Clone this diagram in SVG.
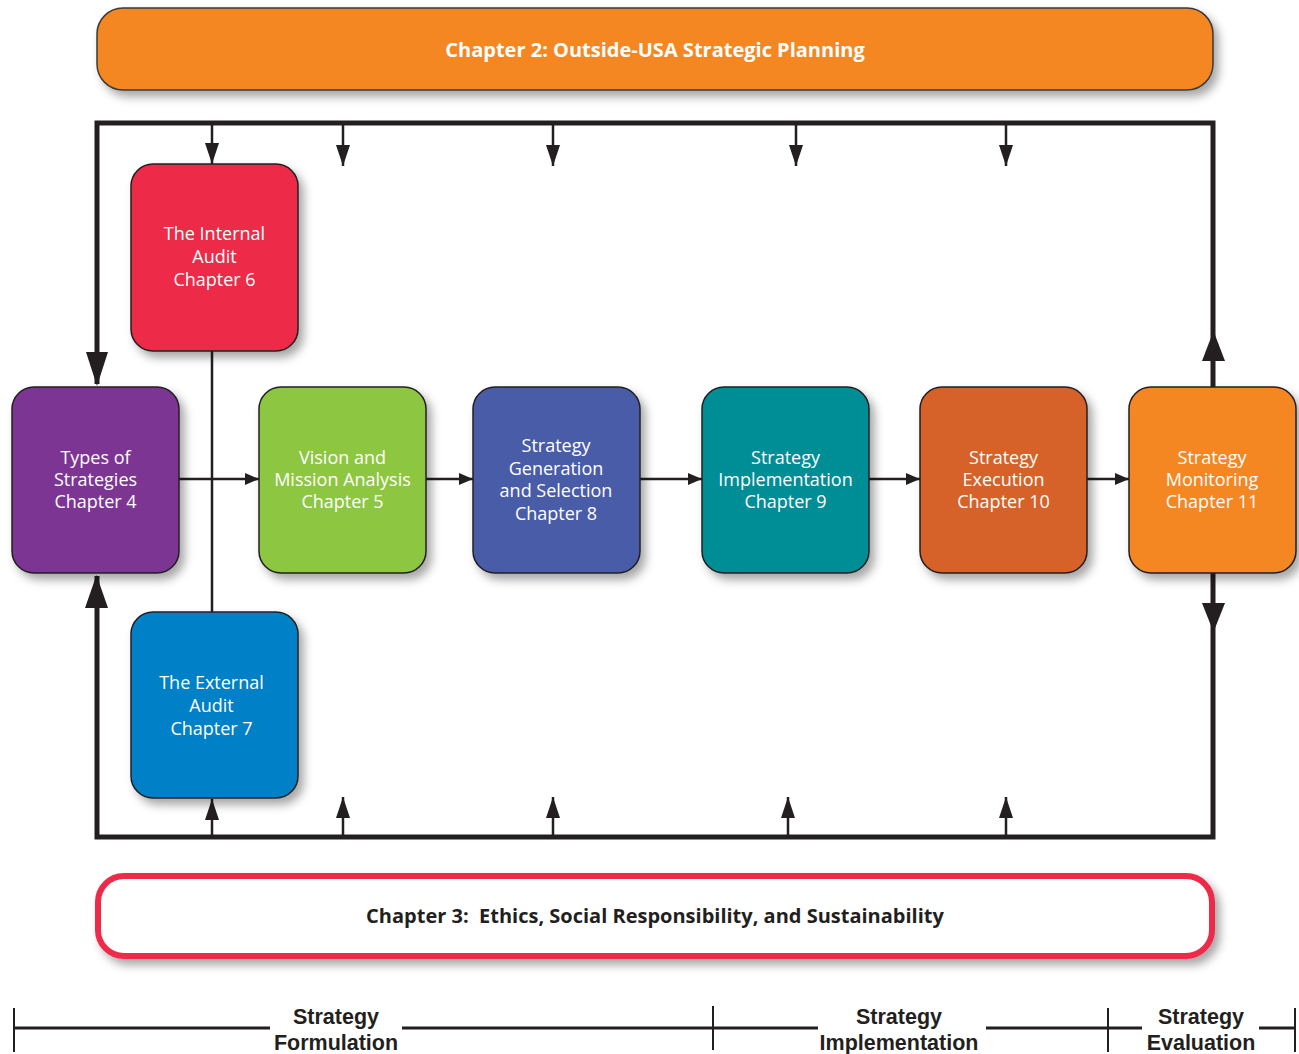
<svg xmlns="http://www.w3.org/2000/svg" width="1299" height="1054" viewBox="0 0 1299 1054">
<defs>
<filter id="sh" x="-20%" y="-20%" width="150%" height="150%">
<feDropShadow dx="5" dy="6" stdDeviation="5" flood-color="#000" flood-opacity="0.35"/>
</filter>
<marker id="ah" viewBox="0 0 14 12" refX="14" refY="6" markerWidth="14" markerHeight="12" markerUnits="userSpaceOnUse" orient="auto">
<path d="M0,0 L14,6 L0,12 Z" fill="#231F20"/>
</marker>
<marker id="as" viewBox="0 0 21 14" refX="21" refY="7" markerWidth="21" markerHeight="14" markerUnits="userSpaceOnUse" orient="auto">
<path d="M0,0 L21,7 L0,14 Z" fill="#231F20"/>
</marker>
</defs>
<style>
.node{stroke:#231F20;stroke-width:1.5;filter:url(#sh)}
.nt{font-family:"Open Sans","Noto Sans",sans-serif;font-size:18px;fill:#fff;text-anchor:middle}
.ban{font-family:"Open Sans","Noto Sans",sans-serif;font-size:20px;font-weight:bold;text-anchor:middle}
.tl{font-family:"Liberation Sans","Open Sans",sans-serif;font-size:21.5px;font-weight:bold;fill:#231F20;text-anchor:middle}
.thick{stroke:#231F20;stroke-width:5;fill:none}
.thin{stroke:#231F20;stroke-width:2.5;fill:none}
.tick{stroke:#231F20;stroke-width:2;fill:none}
</style>
<rect width="1299" height="1054" fill="#fff"/>

<g id="banner-ch2">
<rect x="97" y="8" width="1116" height="82" rx="26" fill="#F58722" stroke="#3A3A3A" stroke-width="1.5" filter="url(#sh)"/>
<text class="ban" x="655" y="57" fill="#fff">Chapter 2: Outside-USA Strategic Planning</text>
</g>

<g id="banner-ch3">
<rect x="98" y="876" width="1114" height="80" rx="26" fill="#fff" stroke="#EE2A4A" stroke-width="6" filter="url(#sh)"/>
<text class="ban" x="655" y="923" fill="#231F20">Chapter 3:&#160; Ethics, Social Responsibility, and Sustainability</text>
</g>

<g id="connectors">
<path class="thick" d="M1213,387 V123 H97 V384"/>
<path class="thick" d="M1213,573 V837 H97 V576"/>
<path d="M86,352 L108,352 L97,386 Z" fill="#231F20"/>
<path d="M85,608 L108,608 L96.5,575 Z" fill="#231F20"/>
<path d="M1202,361 L1225,361 L1213.5,331 Z" fill="#231F20"/>
<path d="M1202,603 L1225,603 L1213.5,632 Z" fill="#231F20"/>
<line class="thin" x1="212" y1="125" x2="212" y2="164" marker-end="url(#as)"/>
<line class="thin" x1="343" y1="125" x2="343" y2="166" marker-end="url(#as)"/>
<line class="thin" x1="553" y1="125" x2="553" y2="166" marker-end="url(#as)"/>
<line class="thin" x1="796" y1="125" x2="796" y2="166" marker-end="url(#as)"/>
<line class="thin" x1="1006" y1="125" x2="1006" y2="166" marker-end="url(#as)"/>
<line class="thin" x1="212" y1="835" x2="212" y2="799" marker-end="url(#as)"/>
<line class="thin" x1="343" y1="835" x2="343" y2="797" marker-end="url(#as)"/>
<line class="thin" x1="553" y1="835" x2="553" y2="797" marker-end="url(#as)"/>
<line class="thin" x1="788" y1="835" x2="788" y2="797" marker-end="url(#as)"/>
<line class="thin" x1="1006" y1="835" x2="1006" y2="797" marker-end="url(#as)"/>
<line class="thin" x1="212" y1="351" x2="212" y2="612"/>
<line class="thin" x1="179" y1="479" x2="259" y2="479" marker-end="url(#ah)"/>
<line class="thin" x1="426" y1="479" x2="473" y2="479" marker-end="url(#ah)"/>
<line class="thin" x1="640" y1="479" x2="702" y2="479" marker-end="url(#ah)"/>
<line class="thin" x1="869" y1="479" x2="920" y2="479" marker-end="url(#ah)"/>
<line class="thin" x1="1087" y1="479" x2="1129" y2="479" marker-end="url(#ah)"/>
</g>

<g id="node-internal">
<rect class="node" x="131" y="164" width="167" height="187" rx="22" fill="#ED2946"/>
<text class="nt" x="214.5" y="240">The Internal</text>
<text class="nt" x="214.5" y="263">Audit</text>
<text class="nt" x="214.5" y="286">Chapter 6</text>
</g>

<g id="node-external">
<rect class="node" x="131" y="612" width="167" height="186" rx="22" fill="#0080C6"/>
<text class="nt" x="211.5" y="689">The External</text>
<text class="nt" x="211.5" y="712">Audit</text>
<text class="nt" x="211.5" y="735">Chapter 7</text>
</g>

<g id="node-types">
<rect class="node" x="12" y="387" width="167" height="186" rx="22" fill="#7D3593"/>
<text class="nt" x="95.5" y="464">Types of</text>
<text class="nt" x="95.5" y="486">Strategies</text>
<text class="nt" x="95.5" y="508">Chapter 4</text>
</g>

<g id="node-vision">
<rect class="node" x="259" y="387" width="167" height="186" rx="22" fill="#8DC63F"/>
<text class="nt" x="342.5" y="464">Vision and</text>
<text class="nt" x="342.5" y="486">Mission Analysis</text>
<text class="nt" x="342.5" y="508">Chapter 5</text>
</g>

<g id="node-generation">
<rect class="node" x="473" y="387" width="167" height="186" rx="22" fill="#4A5BA8"/>
<text class="nt" x="556" y="452">Strategy</text>
<text class="nt" x="556" y="475">Generation</text>
<text class="nt" x="556" y="497">and Selection</text>
<text class="nt" x="556" y="520">Chapter 8</text>
</g>

<g id="node-implementation">
<rect class="node" x="702" y="387" width="167" height="186" rx="22" fill="#008E96"/>
<text class="nt" x="785.5" y="464">Strategy</text>
<text class="nt" x="785.5" y="486">Implementation</text>
<text class="nt" x="785.5" y="508">Chapter 9</text>
</g>

<g id="node-execution">
<rect class="node" x="920" y="387" width="167" height="186" rx="22" fill="#D6622A"/>
<text class="nt" x="1003.5" y="464">Strategy</text>
<text class="nt" x="1003.5" y="486">Execution</text>
<text class="nt" x="1003.5" y="508">Chapter 10</text>
</g>

<g id="node-monitoring">
<rect class="node" x="1129" y="387" width="167" height="186" rx="22" fill="#F58722"/>
<text class="nt" x="1212" y="464">Strategy</text>
<text class="nt" x="1212" y="486">Monitoring</text>
<text class="nt" x="1212" y="508">Chapter 11</text>
</g>

<g id="timeline">
<path class="thick" style="stroke-width:3" d="M14,1028 H270 M402,1028 H818 M986,1028 H1142 M1259,1028 H1295"/>
<line class="tick" x1="14" y1="1008" x2="14" y2="1052"/>
<line class="tick" x1="713" y1="1006" x2="713" y2="1050"/>
<line class="tick" x1="1108" y1="1008" x2="1108" y2="1052"/>
<line class="tick" x1="1295" y1="1008" x2="1295" y2="1052"/>
<text class="tl" x="336" y="1024">Strategy</text>
<text class="tl" x="336" y="1050">Formulation</text>
<text class="tl" x="899" y="1024">Strategy</text>
<text class="tl" x="899" y="1050">Implementation</text>
<text class="tl" x="1201" y="1024">Strategy</text>
<text class="tl" x="1201" y="1050">Evaluation</text>
</g>
</svg>
